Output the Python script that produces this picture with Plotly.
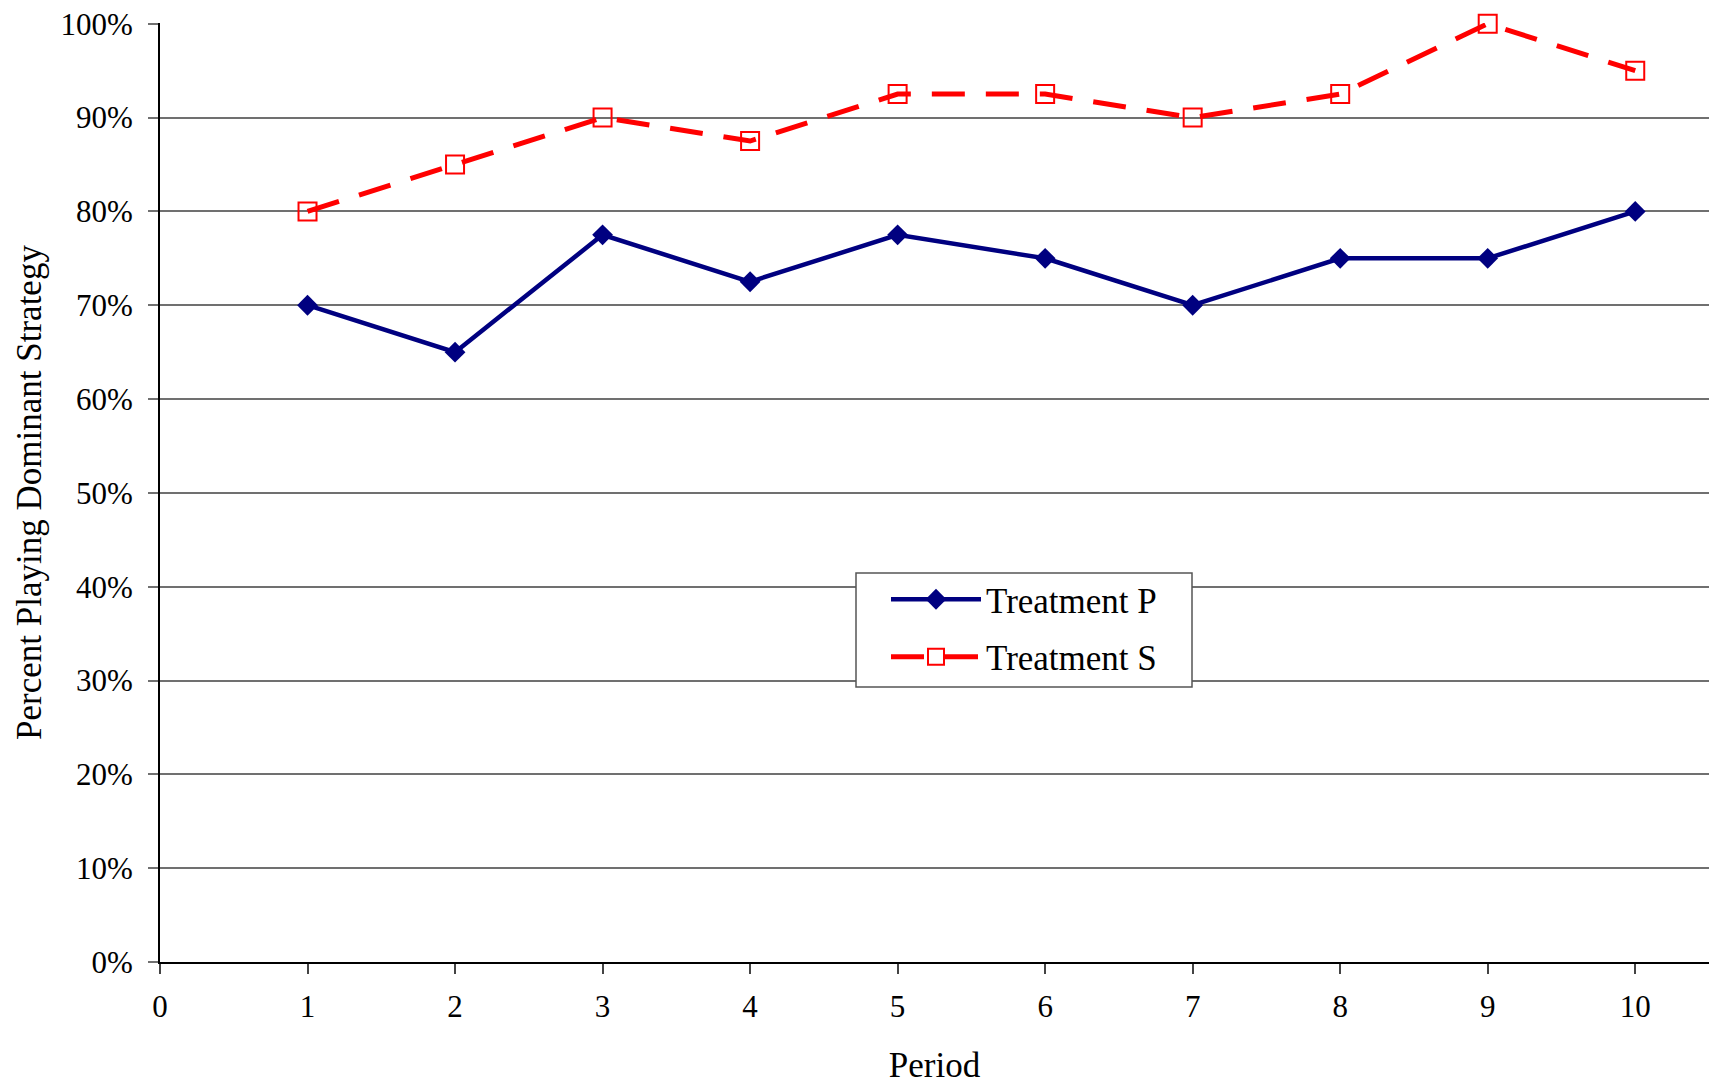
import plotly.graph_objects as go

periods = [1, 2, 3, 4, 5, 6, 7, 8, 9, 10]
treatment_p = [0.70, 0.65, 0.775, 0.725, 0.775, 0.75, 0.70, 0.75, 0.75, 0.80]
treatment_s = [0.80, 0.85, 0.90, 0.875, 0.925, 0.925, 0.90, 0.925, 1.00, 0.95]

x_ticks = list(range(0, 11))
y_ticks = [i / 10 for i in range(0, 11)]
y_tick_text = [f"{i * 10}%" for i in range(0, 11)]

FONT = "Liberation Serif"
TICK_SIZE = 31
TEXT_SIZE = 35

fig = go.Figure()
fig.add_trace(go.Scatter(
    x=periods, y=treatment_p, name="Treatment P", mode="lines+markers",
    legendgroup="p",
    line=dict(color="#000080", width=4.5),
    marker=dict(symbol="diamond", size=16, color="#000080"),
    cliponaxis=False,
))
fig.add_trace(go.Scatter(
    x=periods, y=treatment_s, name="Treatment S", mode="lines+markers",
    legendgroup="s",
    line=dict(color="#FF0000", width=5, dash="33px,21px"),
    marker=dict(symbol="square-open", size=18, color="#FF0000",
                line=dict(width=2, color="#FF0000")),
    cliponaxis=False,
))

# framed box behind the legend entries
fig.add_shape(
    type="rect", xref="paper", yref="paper", layer="above",
    x0=(856 - 160) / 1549, x1=(1192 - 160) / 1549,
    y0=(962 - 687) / 939, y1=(962 - 573) / 939,
    fillcolor="white", line=dict(color="#555555", width=1.5),
)

fig.update_layout(
    width=1709, height=1086,
    margin=dict(l=160, r=0, t=23, b=124),
    paper_bgcolor="white", plot_bgcolor="white",
    font=dict(family=FONT, size=TICK_SIZE, color="black"),
    showlegend=True,
    legend=dict(
        x=(886 - 160) / 1549, y=(962 - 570) / 939,
        xanchor="left", yanchor="top",
        bgcolor="rgba(0,0,0,0)", borderwidth=0,
        font=dict(family=FONT, size=TEXT_SIZE, color="black"),
        itemwidth=90, tracegroupgap=9,
    ),
)
fig.update_xaxes(
    range=[0, 10.5], tickvals=x_ticks, ticktext=[str(v) for v in x_ticks],
    showgrid=False, zeroline=False,
    showline=True, linecolor="black", linewidth=2,
    ticks="outside", ticklen=10, tickcolor="#444444", tickwidth=1.5,
    ticklabelstandoff=6,
    title=dict(text="Period", standoff=29, font=dict(family=FONT, size=TEXT_SIZE)),
)
fig.update_yaxes(
    range=[0, 1.0008], tickvals=y_ticks, ticktext=y_tick_text,
    showgrid=True, gridcolor="#707070", gridwidth=1.5,
    zeroline=False,
    showline=True, linecolor="black", linewidth=2,
    ticks="outside", ticklen=10, tickcolor="#707070", tickwidth=1.5,
    ticklabelstandoff=9,
    title=dict(text="Percent Playing Dominant Strategy", standoff=8,
               font=dict(family=FONT, size=TEXT_SIZE)),
)

fig.write_html("out.html")
